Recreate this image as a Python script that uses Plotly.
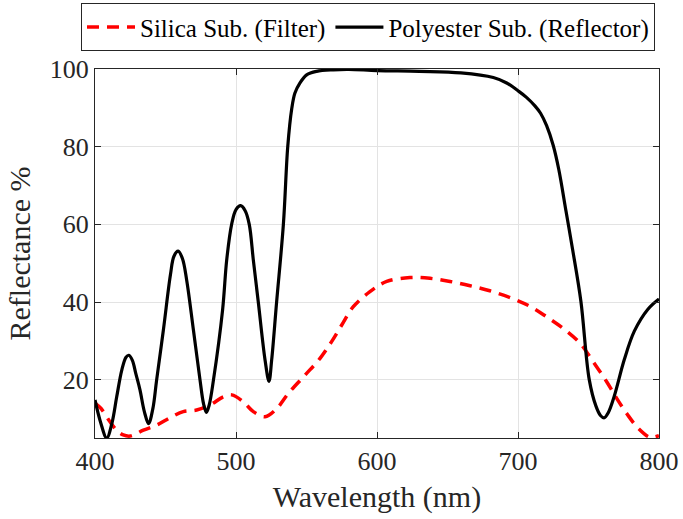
import plotly.graph_objects as go

# Polyester substrate (reflector) reflectance spectrum
poly_wl = [400, 404, 408.3, 412, 415.4, 419, 422, 424, 426.5, 429, 431.9, 435, 438,
           441, 443.7, 448.5, 453.5, 456, 459, 462, 465, 469.8, 474.5, 477, 479, 481,
           484, 490.5, 493.4, 496.9, 500, 503.3, 506.5, 509.4, 512.3, 515.8, 520.6,
           523.4, 525.3, 528.8, 533.6, 536.7, 539.5, 541.8, 545.4, 550.1, 557.2, 569,
           580, 600, 630, 659.5, 682.5, 692, 700, 706, 712, 716, 720.3, 725, 729, 734,
           738.7, 744.6, 750.5, 755.3, 758.5, 761.2, 764, 768.3, 775.4, 782.5, 792, 800]
poly_r = [14.8, 9.0, 5.0, 8.8, 15.6, 22.5, 25.8, 26.3, 25.0, 21.5, 17.4, 11.8, 8.7,
          12.5, 19.9, 32.8, 47.0, 51.8, 53.1, 51.2, 45.7, 32.8, 19.9, 13.8, 11.6, 13.5,
          19.9, 38.0, 50.8, 60.0, 63.8, 64.8, 63.5, 60.0, 50.8, 40.0, 25.1,
          19.6, 25.1, 40.0, 60.0, 80.0, 89.7, 93.8, 96.4, 98.5, 99.4, 99.8,
          99.9, 99.6, 99.4, 99.0, 97.8, 96.4, 94.4, 92.7, 90.5, 88.6, 85.4, 80.3, 74.0, 63.5,
          53.6, 40.2, 20.1, 13.2, 10.8, 10.2, 11.5, 15.8, 25.2, 32.5, 38.1, 40.8]

# Silica substrate (filter) reflectance spectrum
silica_wl = [400, 404.3, 410, 415.4, 420, 425, 434.3, 443.7, 453.2, 462.6, 472.1,
             481.6, 491, 497, 505.2, 512.3, 520.6, 528.9, 537.2, 549, 559.6, 567.8,
             575, 583.2, 595, 606.9, 623.4, 637.6, 651.8, 666, 680, 694, 708, 720.3,
             732.1, 744, 753.4, 762.9, 770, 777.1, 785.3, 793.6, 800]
silica_r = [14.0, 12.6, 9.5, 7.0, 5.8, 5.5, 7.0, 8.3, 10.2, 11.8, 12.2,
            13.5, 15.6, 16.1, 14.3, 11.8, 10.5, 12.6, 16.5, 21.2, 25.5, 29.8,
            34.1, 38.8, 42.7, 45.3, 46.3, 46.1, 45.3, 44.2, 42.9, 41.2, 39.0, 36.2,
            33.2, 29.4, 24.6, 19.5, 15.2, 11.3, 7.5, 5.2, 5.6]

x_ticks = [400, 500, 600, 700, 800]
y_ticks = [20, 40, 60, 80, 100]

FONT = "Liberation Serif, Times New Roman, serif"
AXIS_COLOR = "#262626"
GRID_COLOR = "#e3e3e3"

fig = go.Figure()
fig.add_trace(go.Scatter(
    x=silica_wl, y=silica_r, mode="lines", name="Silica Sub. (Filter)",
    line=dict(color="#ff0000", width=3.5, dash="12px,8px", shape="spline", smoothing=1.0),
))
fig.add_trace(go.Scatter(
    x=poly_wl, y=poly_r, mode="lines", name="Polyester Sub. (Reflector)",
    line=dict(color="#000000", width=3.2, shape="spline", smoothing=1.0),
))

axis_common = dict(
    showline=True, linecolor=AXIS_COLOR, linewidth=1, mirror="ticks",
    ticks="inside", ticklen=6, tickcolor=AXIS_COLOR, tickwidth=1,
    showgrid=True, gridcolor=GRID_COLOR, gridwidth=1, zeroline=False,
    tickfont=dict(family=FONT, size=26, color=AXIS_COLOR),
)

fig.update_xaxes(
    range=[400, 800], tickvals=x_ticks,
    title=dict(text="Wavelength (nm)", font=dict(family=FONT, size=30, color=AXIS_COLOR), standoff=10),
    **axis_common,
)
fig.update_yaxes(
    range=[5, 100], tickvals=y_ticks,
    title=dict(text="Reflectance %", font=dict(family=FONT, size=30, color=AXIS_COLOR), standoff=10),
    **axis_common,
)

fig.update_layout(
    width=683, height=519,
    margin=dict(l=95, r=24, t=69, b=81, autoexpand=False),
    paper_bgcolor="white", plot_bgcolor="white",
    font=dict(family=FONT, color="#000000"),
    legend=dict(
        orientation="h", x=-0.0248, xanchor="left", y=1.178, yanchor="top",
        font=dict(family=FONT, size=25, color="#000000"),
        bordercolor=AXIS_COLOR, borderwidth=1, bgcolor="white",
        itemwidth=48, tracegroupgap=0,
    ),
)

fig.write_html("out.html")
